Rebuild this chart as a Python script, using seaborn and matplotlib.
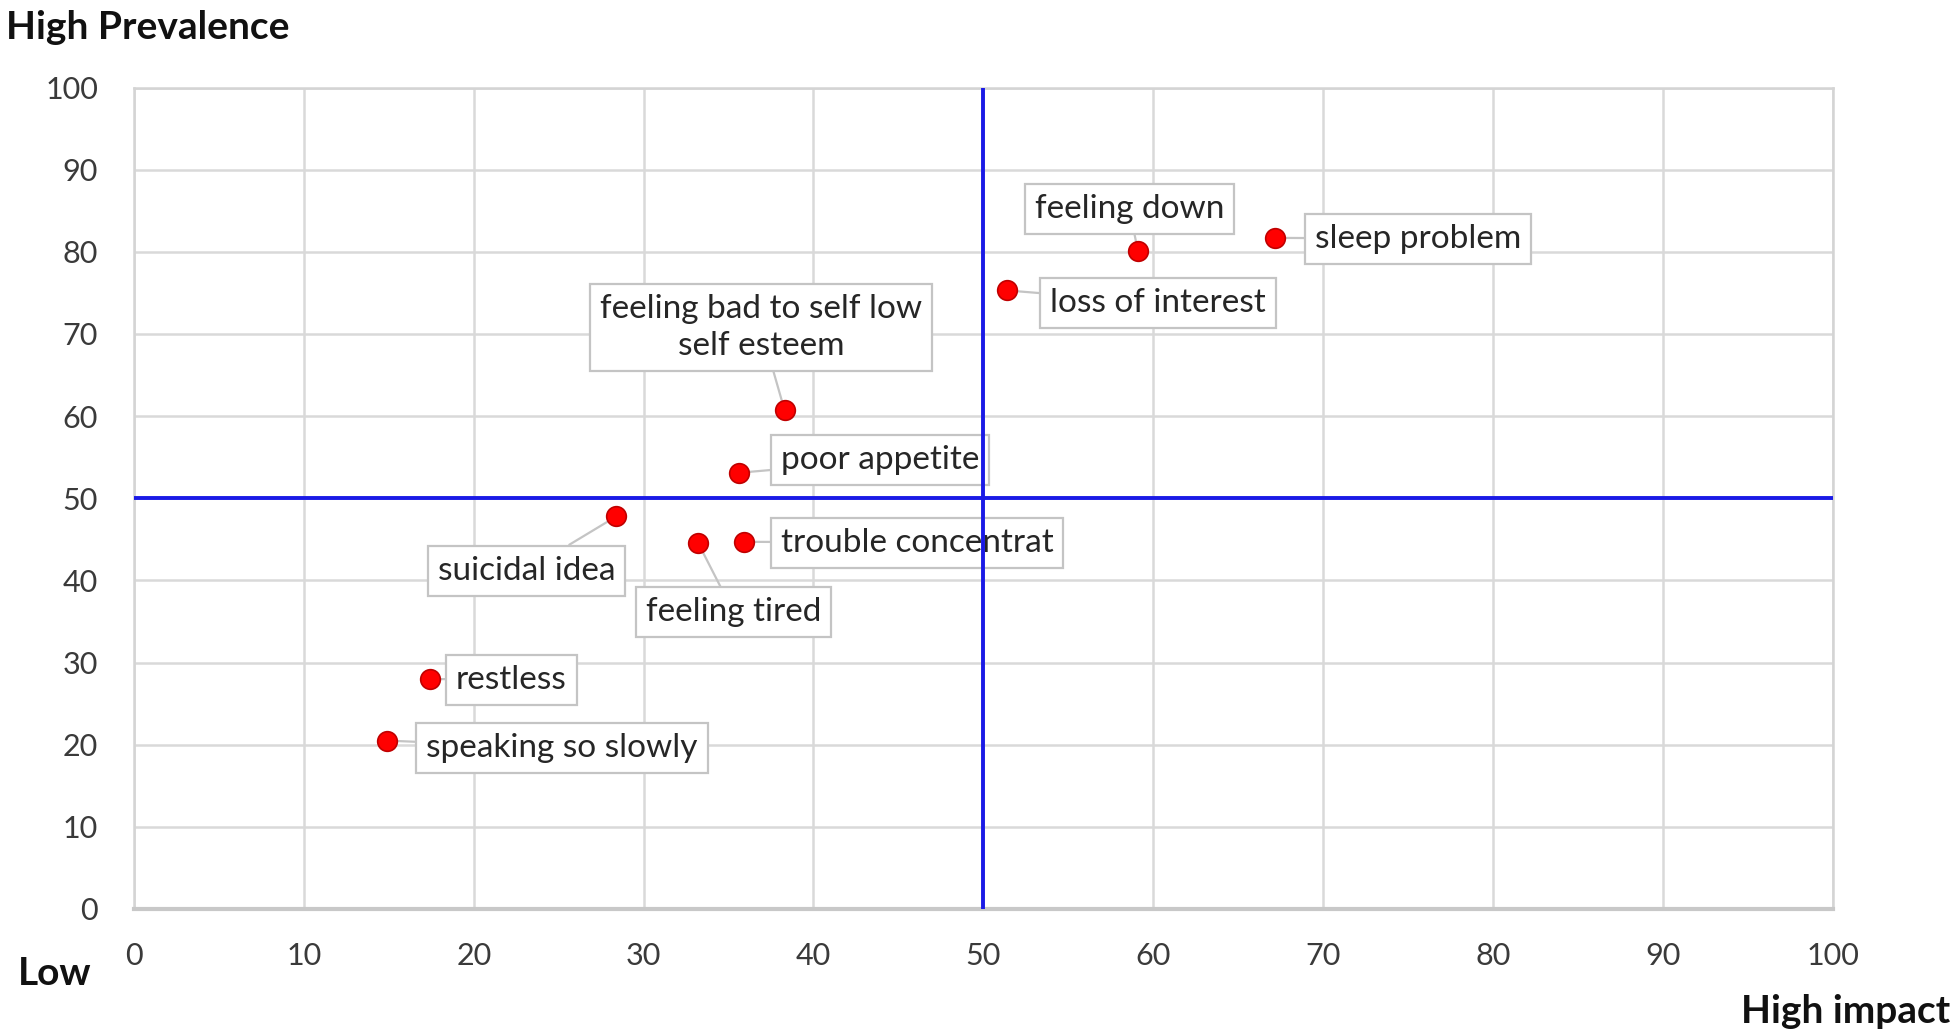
import matplotlib
matplotlib.use("Agg")
import matplotlib.pyplot as plt
import seaborn as sns
import pandas as pd

symptoms = ["sleep problem", "feeling down", "loss of interest",
            "feeling bad to self low\nself esteem", "poor appetite",
            "suicidal idea", "feeling tired", "trouble concentrat",
            "restless", "speaking so slowly"]
impact = [67.2, 59.1, 51.4, 38.3, 35.6, 28.4, 33.2, 35.9, 17.4, 14.9]
prevalence = [81.7, 80.1, 75.3, 60.7, 53.1, 47.8, 44.6, 44.7, 28.0, 20.5]
x_ticks = [0, 10, 20, 30, 40, 50, 60, 70, 80, 90, 100]
y_ticks = [0, 10, 20, 30, 40, 50, 60, 70, 80, 90, 100]

# label box centres (layout only)
label_pos = {
    "sleep problem": (75.6, 81.6),
    "feeling down": (58.6, 85.2),
    "loss of interest": (60.3, 73.8),
    "feeling bad to self low\nself esteem": (36.9, 70.8),
    "poor appetite": (43.9, 54.6),
    "suicidal idea": (23.1, 41.2),
    "feeling tired": (35.3, 36.1),
    "trouble concentrat": (46.1, 44.6),
    "restless": (22.2, 27.9),
    "speaking so slowly": (25.2, 19.6),
}

df = pd.DataFrame({"symptom": symptoms, "impact": impact, "prevalence": prevalence})

sns.set_theme(style="white")
plt.rcParams["font.family"] = ["Lato", "DejaVu Sans"]

fig = plt.figure(figsize=(19.6, 10.36), dpi=100)
ax = fig.add_axes([0.0684, 0.1226, 0.8666, 0.7929])

ax.set_xlim(0, 100)
ax.set_ylim(0, 100)
ax.set_xticks(x_ticks)
ax.set_yticks(y_ticks)
ax.grid(True, color="#d9d9d9", lw=1.8, zorder=0)
ax.set_axisbelow(True)
for s in ax.spines.values():
    s.set_color("#d4d4d4")
    s.set_linewidth(1.8)
ax.spines["bottom"].set_color("#c8c8c8")
ax.spines["bottom"].set_linewidth(3)
ax.tick_params(axis="both", length=0, labelsize=22, colors="#3a3a3a")
ax.tick_params(axis="x", pad=24)
ax.tick_params(axis="y", pad=26)

ax.axvline(50, color="#1a1ae6", lw=2.8, zorder=5)
ax.axhline(50, color="#1a1ae6", lw=2.8, zorder=5)

sns.scatterplot(data=df, x="impact", y="prevalence", ax=ax, color="#ff0000",
                edgecolor="#c00000", linewidth=1.2, s=200, zorder=6, legend=False)

for name, xi, yi in zip(symptoms, impact, prevalence):
    lx, ly = label_pos[name]
    ax.annotate(name, xy=(xi, yi), xytext=(lx, ly), textcoords="data",
                ha="center", va="center", multialignment="center",
                fontsize=24, color="#262626", linespacing=1.3, zorder=4,
                bbox=dict(boxstyle="square,pad=0.3", fc="white", ec="#c4c4c4", lw=1.6),
                arrowprops=dict(arrowstyle="-", color="#c4c4c4", lw=1.6,
                                shrinkA=0, shrinkB=6))

ax.set_xlabel("")
ax.set_ylabel("")

fig.text(0.003, 0.990, "High Prevalence", fontsize=28, fontweight="bold",
         ha="left", va="top", color="#111111")
fig.text(0.009, 0.060, "Low", fontsize=28, fontweight="bold",
         ha="left", va="center", color="#111111")
fig.text(0.995, 0.024, "High impact", fontsize=28, fontweight="bold",
         ha="right", va="center", color="#111111")

fig.savefig("out.png", dpi=100, facecolor="white")
